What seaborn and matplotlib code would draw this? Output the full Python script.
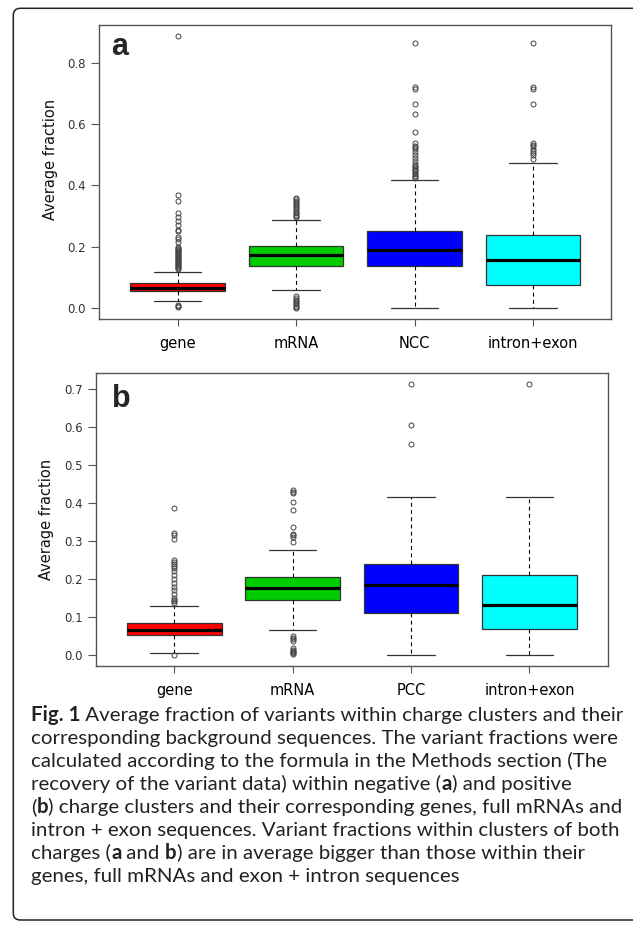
import numpy as np
import pandas as pd
import seaborn as sns
import matplotlib.pyplot as plt
from matplotlib.patches import FancyBboxPatch

# categories
groups_a = ['gene', 'mRNA', 'NCC', 'intron+exon']
groups_b = ['gene', 'mRNA', 'PCC', 'intron+exon']
box_colors = ['#FF0000', '#00CD00', '#0000FF', '#00FFFF']

# box summaries (lower whisker, q1, median, q3, upper whisker)
whislo_a = [0.022, 0.058, 0.0, 0.0]
q1_a = [0.055, 0.138, 0.137, 0.074]
med_a = [0.066, 0.173, 0.190, 0.157]
q3_a = [0.083, 0.201, 0.251, 0.237]
whishi_a = [0.118, 0.288, 0.419, 0.472]
outliers_a = [
    [0.004, 0.007, 0.010, 0.127, 0.130, 0.133, 0.136, 0.140, 0.143, 0.146, 0.150,
     0.153, 0.156, 0.160, 0.163, 0.166, 0.170, 0.173, 0.176, 0.180, 0.183, 0.186,
     0.190, 0.193, 0.197, 0.200, 0.215, 0.226, 0.232, 0.250, 0.255, 0.270, 0.283,
     0.297, 0.310, 0.350, 0.368, 0.888],
    [0.0, 0.004, 0.008, 0.012, 0.017, 0.022, 0.028, 0.034, 0.040, 0.297, 0.300,
     0.305, 0.310, 0.315, 0.320, 0.325, 0.330, 0.335, 0.340, 0.345, 0.350, 0.355, 0.359],
    [0.424, 0.428, 0.432, 0.437, 0.441, 0.446, 0.450, 0.455, 0.460, 0.465, 0.470,
     0.480, 0.490, 0.500, 0.510, 0.520, 0.525, 0.530, 0.539, 0.574, 0.632, 0.667,
     0.716, 0.720, 0.864],
    [0.487, 0.500, 0.506, 0.512, 0.520, 0.528, 0.533, 0.539, 0.667, 0.716, 0.720, 0.864],
]

# box summaries
whislo_b = [0.006, 0.067, 0.0, 0.0]
q1_b = [0.0525, 0.144, 0.110, 0.069]
med_b = [0.0656, 0.176, 0.184, 0.131]
q3_b = [0.0857, 0.205, 0.240, 0.210]
whishi_b = [0.129, 0.276, 0.4165, 0.4165]
outliers_b = [
    [0.001, 0.138, 0.142, 0.146, 0.150, 0.160, 0.170, 0.180, 0.190, 0.200, 0.210,
     0.220, 0.228, 0.235, 0.240, 0.245, 0.250, 0.305, 0.315, 0.322, 0.386],
    [0.002, 0.005, 0.008, 0.011, 0.014, 0.020, 0.038, 0.042, 0.046, 0.050, 0.298,
     0.310, 0.315, 0.318, 0.338, 0.381, 0.403, 0.425, 0.430, 0.434],
    [0.556, 0.604, 0.713],
    [0.713],
]

yticks_a = [0.0, 0.2, 0.4, 0.6, 0.8]
yticks_b = [0.0, 0.1, 0.2, 0.3, 0.4, 0.5, 0.6, 0.7]

caption_lines = [
    [('Fig. 1', True), (' Average fraction of variants within charge clusters and their', False)],
    [('corresponding background sequences. The variant fractions were', False)],
    [('calculated according to the formula in the Methods section (The', False)],
    [('recovery of the variant data) within negative (', False), ('a', True), (') and positive', False)],
    [('(', False), ('b', True), (') charge clusters and their corresponding genes, full mRNAs and', False)],
    [('intron + exon sequences. Variant fractions within clusters of both', False)],
    [('charges (', False), ('a', True), (' and ', False), ('b', True), (') are in average bigger than those within their', False)],
    [('genes, full mRNAs and exon + intron sequences', False)],
]


def make_frame(groups, lo, q1, med, q3, hi, outliers):
    # long-form table that reproduces the quartiles, whiskers and outliers above
    rows = []
    for i, g in enumerate(groups):
        vals = [lo[i]] + [q1[i]] * 60 + [med[i]] * 60 + [q3[i]] * 60 + [hi[i]] + outliers[i]
        rows += [(g, v) for v in vals]
    return pd.DataFrame(rows, columns=['group', 'value'])


def draw_panel(ax, df, groups, ylim, yticks, letter, letter_xy, ylab_xy):
    sns.boxplot(data=df, x='group', y='value', hue='group', order=groups,
                hue_order=groups, palette=box_colors, saturation=1, legend=False,
                width=0.8, linewidth=0.9, linecolor='#333333', fliersize=3.6,
                flierprops=dict(marker='o', markerfacecolor='none',
                                markeredgecolor='#444444', markeredgewidth=0.7),
                medianprops=dict(color='black', linewidth=2.3, solid_capstyle='butt'),
                whiskerprops=dict(color='black', linewidth=0.8, linestyle=(0, (3.5, 3))),
                capprops=dict(color='#333333', linewidth=0.9),
                ax=ax)
    ax.set_xlim(-0.66, 3.66)
    ax.set_ylim(*ylim)
    ax.set_yticks(yticks)
    ax.set_yticklabels(['%.1f' % t for t in yticks])
    ax.set_xlabel('')
    ax.set_ylabel('Average fraction', fontsize=10.5, color='#111111')
    ax.yaxis.set_label_coords(*ylab_xy)
    for s in ax.spines.values():
        s.set_visible(True)
        s.set_color('#555555')
        s.set_linewidth(1.0)
    ax.tick_params(axis='y', length=5.5, width=0.8, color='#555555', pad=4,
                   labelsize=8.5, labelcolor='#333333', left=True)
    ax.tick_params(axis='x', length=5, width=0.8, color='#555555', pad=7,
                   labelsize=10.5, labelcolor='#000000', bottom=True)
    ax.text(letter_xy[0], letter_xy[1], letter, transform=ax.transAxes,
            fontsize=22, fontweight='bold', family='Liberation Sans',
            ha='left', va='baseline')


sns.set_style('white')
plt.rcParams['font.family'] = ['DejaVu Sans']

W, H = 633, 927
fig = plt.figure(figsize=(W / 100, H / 100), dpi=100)

ax_a = fig.add_axes([99.3 / W, 1 - 319 / H, 512 / W, 294 / H])
ax_b = fig.add_axes([96 / W, 1 - 666 / H, 511.6 / W, 293 / H])

df_a = make_frame(groups_a, whislo_a, q1_a, med_a, q3_a, whishi_a, outliers_a)
df_b = make_frame(groups_b, whislo_b, q1_b, med_b, q3_b, whishi_b, outliers_b)

draw_panel(ax_a, df_a, groups_a, (-0.0355, 0.9235), yticks_a, 'a', (0.023, 0.898), (-0.080, 0.544))
draw_panel(ax_b, df_b, groups_b, (-0.0285, 0.7415), yticks_b, 'b', (0.031, 0.883), (-0.083, 0.5))

# outer rounded frame, running off the right edge
frame = FancyBboxPatch((13.3, H - 920), 650, 920 - 8.3,
                       boxstyle='round,pad=0,rounding_size=7',
                       transform=None, facecolor='none', edgecolor='#222222', linewidth=1.1)
fig.add_artist(frame)

# caption with bold pieces
cap_font = 'Lato'
fig.canvas.draw()
rend = fig.canvas.get_renderer()


def text_w(s, size, bold):
    kw = dict(fontsize=size, family=cap_font, fontweight='bold' if bold else 'normal')
    t1 = fig.text(0, 0, 'x' + s + 'x', **kw)
    t2 = fig.text(0, 0, 'xx', **kw)
    w = t1.get_window_extent(rend).width - t2.get_window_extent(rend).width
    t1.remove()
    t2.remove()
    return w


ref = sum(text_w(s, 10, b) for s, b in caption_lines[0])
cap_size = 10 * (622 - 31) / ref

y0 = 721
for i, line in enumerate(caption_lines):
    x = 31
    y = y0 + i * 23
    for s, b in line:
        fig.text(x / W, 1 - y / H, s, fontsize=cap_size, family=cap_font,
                 fontweight='bold' if b else 'normal', color='#222222',
                 ha='left', va='baseline')
        x += text_w(s, cap_size, b)

fig.savefig('out.png', dpi=100)
